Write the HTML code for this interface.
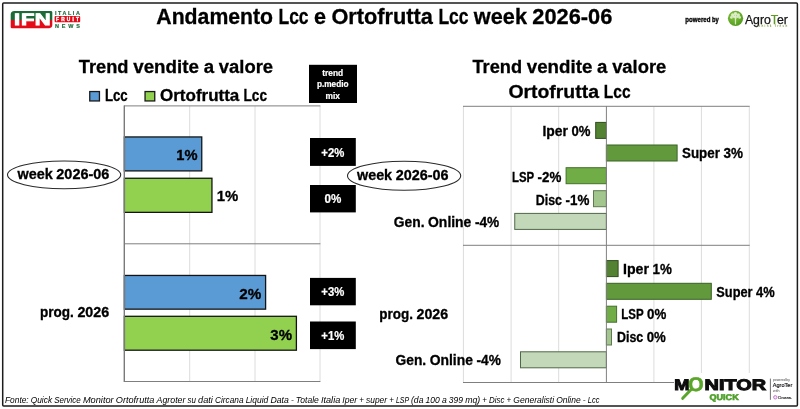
<!DOCTYPE html>
<html lang="it">
<head>
<meta charset="utf-8">
<title>Andamento Lcc e Ortofrutta Lcc week 2026-06</title>
<style>
html,body{margin:0;padding:0;background:#fff;}
body{width:800px;height:409px;overflow:hidden;}
svg{display:block;filter:blur(0.35px);}
text{font-family:"Liberation Sans",sans-serif;}
.b{font-weight:bold;fill:#000;stroke:#000;stroke-width:0.3px;}
.w{font-weight:bold;fill:#fff;stroke:#fff;stroke-width:0.2px;}
</style>
</head>
<body>
<svg width="800" height="409" viewBox="0 0 800 409">
<defs>
<linearGradient id="ifn" x1="0" y1="0" x2="0" y2="1">
<stop offset="0" stop-color="#1b6a37"/><stop offset="0.52" stop-color="#1b6a37"/>
<stop offset="0.52" stop-color="#e30b17"/><stop offset="1" stop-color="#e30b17"/>
</linearGradient>
<radialGradient id="agro" cx="0.4" cy="0.35" r="0.7">
<stop offset="0" stop-color="#8cc63f"/><stop offset="1" stop-color="#4f9a1e"/>
</radialGradient>
</defs>
<rect x="0" y="0" width="800" height="409" fill="#fff"/>
<!-- frame -->
<rect x="2.7" y="3.1" width="794.7" height="402.8" rx="1" fill="#fff" stroke="#1c1c1c" stroke-width="1.5"/>

<!-- IFN logo -->
<g id="logo-ifn">
<path d="M14.4 10.9H50.9Q52.3 10.9 52.3 12.3V25.1Q52.3 28.15 49.2 28.15H11.9Q10.7 28.15 10.7 26.9V14.6Q10.7 10.9 14.4 10.9Z" fill="url(#ifn)"/>
<text style="text-rendering:geometricPrecision" transform="scale(1,0.755)" x="14.09 21.05 34.7" y="33.44" font-size="22" font-weight="bold" fill="#fff" stroke="#fff" stroke-width="1.2" stroke-linejoin="miter">IFN</text>
<text x="55" y="14.5" font-size="5.4" font-weight="bold" fill="#1b6a37" stroke="#1b6a37" stroke-width="0.15" textLength="24.8" lengthAdjust="spacing">ITALIA</text>
<rect x="54.6" y="16" width="25.6" height="6.3" rx="1" fill="#e30b17"/>
<text x="56" y="20.95" font-size="4.8" font-weight="bold" fill="#fff" stroke="#fff" stroke-width="0.35" textLength="23" lengthAdjust="spacing">FRUIT</text>
<text x="55" y="27.9" font-size="5.5" font-weight="bold" fill="#1b6a37" stroke="#1b6a37" stroke-width="0.15" textLength="25" lengthAdjust="spacing">NEWS</text>
</g>

<!-- main title -->
<text y="23.7" font-size="21.6" class="b"><tspan x="156.30" textLength="116.80" lengthAdjust="spacingAndGlyphs">Andamento</tspan> <tspan x="278.50" textLength="30.08" lengthAdjust="spacingAndGlyphs">Lcc</tspan> <tspan x="313.98" textLength="12.02" lengthAdjust="spacingAndGlyphs">e</tspan> <tspan x="331.40" textLength="101.60" lengthAdjust="spacingAndGlyphs">Ortofrutta</tspan> <tspan x="438.39" textLength="30.08" lengthAdjust="spacingAndGlyphs">Lcc</tspan> <tspan x="473.87" textLength="53.11" lengthAdjust="spacingAndGlyphs">week</tspan> <tspan x="532.38" textLength="79.92" lengthAdjust="spacingAndGlyphs">2026-06</tspan></text>

<!-- powered by AgroTer -->
<g id="logo-agroter">
<text y="21.9" font-size="6.4" class="b" fill="#222"><tspan x="685.30" textLength="25.13" lengthAdjust="spacingAndGlyphs">powered</tspan> <tspan x="711.97" textLength="6.83" lengthAdjust="spacingAndGlyphs">by</tspan></text>
<circle cx="735.55" cy="18.3" r="7.6" fill="url(#agro)"/>
<g fill="#fff" opacity="0.72">
<path d="M734.9 24.4V18.6L732.4 16.6L732.9 16L735 17.5V15H736V17.8L738.2 16.2L738.7 16.8L736.1 18.8V24.4Z"/>
<circle cx="735.5" cy="13.8" r="1.8"/><circle cx="732.6" cy="14.9" r="1.6"/><circle cx="738.4" cy="14.9" r="1.6"/>
<circle cx="731.4" cy="17.4" r="1.4"/><circle cx="739.6" cy="17.4" r="1.4"/><circle cx="733.9" cy="16.5" r="1.2"/><circle cx="737.3" cy="16.5" r="1.2"/>
</g>
<text x="744.9" y="23.9" font-size="12" fill="#151515" stroke="#151515" stroke-width="0.25" textLength="43" lengthAdjust="spacingAndGlyphs">Agro<tspan fill="#5f9a25" stroke="#5f9a25">T</tspan>er</text>
<text x="759.2" y="26.9" font-size="2.9" font-weight="bold" fill="#7a9a3a" textLength="28" lengthAdjust="spacing">think fresh</text>
</g>

<!-- LEFT CHART -->
<g id="chart-left">
<text y="72.8" font-size="18.9" class="b"><tspan x="78.80" textLength="49.71" lengthAdjust="spacingAndGlyphs">Trend</tspan> <tspan x="133.26" textLength="65.67" lengthAdjust="spacingAndGlyphs">vendite</tspan> <tspan x="203.68" textLength="10.38" lengthAdjust="spacingAndGlyphs">a</tspan> <tspan x="218.81" textLength="54.29" lengthAdjust="spacingAndGlyphs">valore</tspan></text>
<rect x="89.75" y="91.55" width="9.7" height="9.4" fill="#5b9bd5" stroke="#1a1a1a" stroke-width="1.3"/>
<text x="104.9" y="100.8" font-size="16" class="b" textLength="22.8" lengthAdjust="spacingAndGlyphs">Lcc</text>
<rect x="145.05" y="91.55" width="9.7" height="9.4" fill="#92d050" stroke="#1a1a1a" stroke-width="1.3"/>
<text y="100.8" font-size="16" class="b"><tspan x="160.00" textLength="79.31" lengthAdjust="spacingAndGlyphs">Ortofrutta</tspan> <tspan x="243.52" textLength="23.48" lengthAdjust="spacingAndGlyphs">Lcc</tspan></text>
<!-- grid -->
<g stroke="#dcdcdc" stroke-width="1">
<line x1="189.7" y1="106" x2="189.7" y2="381.5"/><line x1="255" y1="106" x2="255" y2="381.5"/><line x1="320" y1="106" x2="320" y2="381.5"/>
</g>
<g stroke="#7f7f7f" stroke-width="1">
<line x1="124" y1="105.9" x2="320.4" y2="105.9"/><line x1="124" y1="243.8" x2="320.4" y2="243.8"/><line x1="124" y1="381.5" x2="320.4" y2="381.5"/>
</g>
<!-- bars -->
<g stroke="#141414" stroke-width="1.3">
<rect x="124.4" y="136.95" width="77.35" height="33.95" fill="#5b9bd5"/>
<rect x="124.4" y="178.25" width="87.55" height="34.1" fill="#92d050"/>
<rect x="124.4" y="275.45" width="141.2" height="33.7" fill="#5b9bd5"/>
<rect x="124.4" y="316.3" width="172" height="33.9" fill="#92d050"/>
</g>
<line x1="124.3" y1="105.4" x2="124.3" y2="382" stroke="#7a7a7a" stroke-width="1.4"/>
<text x="176.3" y="160.1" font-size="15.3" class="b" textLength="21.2" lengthAdjust="spacingAndGlyphs">1%</text>
<text x="216.8" y="201.1" font-size="15.3" class="b" textLength="21.5" lengthAdjust="spacingAndGlyphs">1%</text>
<text x="239.3" y="298.8" font-size="15.3" class="b" textLength="22" lengthAdjust="spacingAndGlyphs">2%</text>
<text x="270.3" y="339.5" font-size="15.3" class="b" textLength="21.7" lengthAdjust="spacingAndGlyphs">3%</text>
<!-- category labels -->
<ellipse cx="64.1" cy="174.85" rx="56.6" ry="13.9" fill="#fff" stroke="#2a2a2a" stroke-width="1.1"/>
<text y="178.9" font-size="14.1" class="b"><tspan x="17.50" textLength="35.26" lengthAdjust="spacingAndGlyphs">week</tspan> <tspan x="56.34" textLength="53.06" lengthAdjust="spacingAndGlyphs">2026-06</tspan></text>
<text y="317" font-size="14.1" class="b"><tspan x="40.00" textLength="33.86" lengthAdjust="spacingAndGlyphs">prog.</tspan> <tspan x="77.40" textLength="31.80" lengthAdjust="spacingAndGlyphs">2026</tspan></text>
</g>

<!-- trend boxes -->
<g id="trend-boxes">
<rect x="309" y="64.8" width="48" height="38.2" fill="#000"/>
<text x="322.3" y="75.6" font-size="8.6" class="w" textLength="20.9" lengthAdjust="spacingAndGlyphs">trend</text>
<text x="316.9" y="87.2" font-size="8.6" class="w" textLength="31.6" lengthAdjust="spacingAndGlyphs">p.medio</text>
<text x="325.6" y="98.8" font-size="8.6" class="w" textLength="14.4" lengthAdjust="spacingAndGlyphs">mix</text>
<rect x="310" y="138" width="45.8" height="27.9" fill="#000"/>
<text x="321.3" y="157" font-size="11.9" class="w" textLength="23" lengthAdjust="spacingAndGlyphs">+2%</text>
<rect x="310" y="185" width="45.8" height="27.4" fill="#000"/>
<text x="324.5" y="203" font-size="11.9" class="w" textLength="16.8" lengthAdjust="spacingAndGlyphs">0%</text>
<rect x="310" y="277.9" width="45.8" height="27.4" fill="#000"/>
<text x="321.3" y="296.4" font-size="11.9" class="w" textLength="23" lengthAdjust="spacingAndGlyphs">+3%</text>
<rect x="310" y="321.5" width="45.8" height="27.6" fill="#000"/>
<text x="321.3" y="340.3" font-size="11.9" class="w" textLength="23" lengthAdjust="spacingAndGlyphs">+1%</text>
</g>

<!-- RIGHT CHART -->
<g id="chart-right">
<text y="72.8" font-size="18.9" class="b"><tspan x="472.50" textLength="49.58" lengthAdjust="spacingAndGlyphs">Trend</tspan> <tspan x="526.82" textLength="65.50" lengthAdjust="spacingAndGlyphs">vendite</tspan> <tspan x="597.06" textLength="10.35" lengthAdjust="spacingAndGlyphs">a</tspan> <tspan x="612.15" textLength="54.15" lengthAdjust="spacingAndGlyphs">valore</tspan></text>
<text y="98.4" font-size="18.9" class="b"><tspan x="508.40" textLength="90.57" lengthAdjust="spacingAndGlyphs">Ortofrutta</tspan> <tspan x="603.78" textLength="26.82" lengthAdjust="spacingAndGlyphs">Lcc</tspan></text>
<g stroke="#dcdcdc" stroke-width="1">
<line x1="463.4" y1="106.4" x2="463.4" y2="382.5"/><line x1="511.1" y1="106.4" x2="511.1" y2="382.5"/><line x1="558.7" y1="106.4" x2="558.7" y2="382.5"/>
<line x1="653.9" y1="106.4" x2="653.9" y2="382.5"/><line x1="701.4" y1="106.4" x2="701.4" y2="382.5"/><line x1="749.3" y1="106.4" x2="749.3" y2="382.5"/>
</g>
<g stroke="#7f7f7f" stroke-width="1">
<line x1="463" y1="106.3" x2="749.7" y2="106.3"/><line x1="463" y1="245.3" x2="749.7" y2="245.3"/><line x1="463" y1="382.5" x2="749.7" y2="382.5"/>
</g>
<!-- bars -->
<g stroke-width="1">
<rect x="595.70" y="122.40" width="10.70" height="16.00" fill="#538233" stroke="#2f4d1c"/>
<rect x="606.40" y="145.00" width="70.70" height="16.00" fill="#62993c" stroke="#386224"/>
<rect x="566.10" y="167.70" width="40.30" height="16.00" fill="#70ad47" stroke="#44702b"/>
<rect x="593.50" y="190.70" width="12.90" height="16.00" fill="#a2c68d" stroke="#5f7a4f"/>
<rect x="514.75" y="213.40" width="91.65" height="16.00" fill="#c3d8b9" stroke="#4f6847"/>
<rect x="606.40" y="260.60" width="11.70" height="16.00" fill="#538233" stroke="#2f4d1c"/>
<rect x="606.40" y="283.30" width="104.90" height="16.00" fill="#62993c" stroke="#386224"/>
<rect x="606.40" y="306.20" width="10.20" height="16.00" fill="#70ad47" stroke="#44702b"/>
<rect x="606.40" y="329.00" width="5.10" height="16.00" fill="#a2c68d" stroke="#5f7a4f"/>
<rect x="520.50" y="351.80" width="85.90" height="16.00" fill="#c3d8b9" stroke="#4f6847"/>
</g>
<line x1="606.4" y1="106" x2="606.4" y2="383" stroke="#808080" stroke-width="1"/>
<!-- labels -->
<g font-size="14.1" class="b" lengthAdjust="spacingAndGlyphs">
<text y="135.8"><tspan x="542.50" textLength="25.54" lengthAdjust="spacingAndGlyphs">Iper</tspan> <tspan x="571.51" textLength="18.99" lengthAdjust="spacingAndGlyphs">0%</tspan></text>
<text y="157.7"><tspan x="682.00" textLength="37.94" lengthAdjust="spacingAndGlyphs">Super</tspan> <tspan x="723.50" textLength="19.50" lengthAdjust="spacingAndGlyphs">3%</tspan></text>
<text y="182"><tspan x="512.00" textLength="22.02" lengthAdjust="spacingAndGlyphs">LSP</tspan> <tspan x="537.51" textLength="23.79" lengthAdjust="spacingAndGlyphs">-2%</tspan></text>
<text y="204.5"><tspan x="535.80" textLength="26.17" lengthAdjust="spacingAndGlyphs">Disc</tspan> <tspan x="565.47" textLength="23.83" lengthAdjust="spacingAndGlyphs">-1%</tspan></text>
<text y="226.8"><tspan x="393.80" textLength="30.70" lengthAdjust="spacingAndGlyphs">Gen.</tspan> <tspan x="428.06" textLength="43.32" lengthAdjust="spacingAndGlyphs">Online</tspan> <tspan x="474.96" textLength="24.34" lengthAdjust="spacingAndGlyphs">-4%</tspan></text>
<text y="274.3"><tspan x="623.00" textLength="25.96" lengthAdjust="spacingAndGlyphs">Iper</tspan> <tspan x="652.50" textLength="19.30" lengthAdjust="spacingAndGlyphs">1%</tspan></text>
<text y="297"><tspan x="716.30" textLength="36.26" lengthAdjust="spacingAndGlyphs">Super</tspan> <tspan x="755.97" textLength="18.63" lengthAdjust="spacingAndGlyphs">4%</tspan></text>
<text y="319.3"><tspan x="621.30" textLength="22.23" lengthAdjust="spacingAndGlyphs">LSP</tspan> <tspan x="647.05" textLength="19.25" lengthAdjust="spacingAndGlyphs">0%</tspan></text>
<text y="341.8"><tspan x="617.00" textLength="26.19" lengthAdjust="spacingAndGlyphs">Disc</tspan> <tspan x="646.69" textLength="19.11" lengthAdjust="spacingAndGlyphs">0%</tspan></text>
<text y="364.5"><tspan x="395.50" textLength="30.64" lengthAdjust="spacingAndGlyphs">Gen.</tspan> <tspan x="429.70" textLength="43.24" lengthAdjust="spacingAndGlyphs">Online</tspan> <tspan x="476.50" textLength="24.30" lengthAdjust="spacingAndGlyphs">-4%</tspan></text>
</g>
<ellipse cx="404.1" cy="175.75" rx="56.6" ry="14.55" fill="#fff" stroke="#2a2a2a" stroke-width="1.1"/>
<text y="180.1" font-size="14.1" class="b"><tspan x="357.00" textLength="35.10" lengthAdjust="spacingAndGlyphs">week</tspan> <tspan x="395.67" textLength="52.83" lengthAdjust="spacingAndGlyphs">2026-06</tspan></text>
<text y="318.8" font-size="14.1" class="b"><tspan x="379.30" textLength="33.66" lengthAdjust="spacingAndGlyphs">prog.</tspan> <tspan x="416.49" textLength="31.61" lengthAdjust="spacingAndGlyphs">2026</tspan></text>
</g>

<!-- footer -->
<text y="402.5" font-size="8.4" font-style="italic" fill="#000"><tspan x="5.00" textLength="23.67" lengthAdjust="spacingAndGlyphs">Fonte:</tspan> <tspan x="30.78" textLength="21.30" lengthAdjust="spacingAndGlyphs">Quick</tspan> <tspan x="54.20" textLength="26.60" lengthAdjust="spacingAndGlyphs">Service</tspan> <tspan x="82.91" textLength="30.77" lengthAdjust="spacingAndGlyphs">Monitor</tspan> <tspan x="115.79" textLength="38.62" lengthAdjust="spacingAndGlyphs">Ortofrutta</tspan> <tspan x="156.52" textLength="28.92" lengthAdjust="spacingAndGlyphs">Agroter</tspan> <tspan x="187.56" textLength="8.45" lengthAdjust="spacingAndGlyphs">su</tspan> <tspan x="198.12" textLength="14.82" lengthAdjust="spacingAndGlyphs">dati</tspan> <tspan x="215.06" textLength="28.49" lengthAdjust="spacingAndGlyphs">Circana</tspan> <tspan x="245.66" textLength="22.65" lengthAdjust="spacingAndGlyphs">Liquid</tspan> <tspan x="270.42" textLength="18.37" lengthAdjust="spacingAndGlyphs">Data</tspan> <tspan x="290.91" textLength="2.86" lengthAdjust="spacingAndGlyphs">-</tspan> <tspan x="295.89" textLength="22.99" lengthAdjust="spacingAndGlyphs">Totale</tspan> <tspan x="320.99" textLength="19.27" lengthAdjust="spacingAndGlyphs">Italia</tspan> <tspan x="342.37" textLength="14.83" lengthAdjust="spacingAndGlyphs">Iper</tspan> <tspan x="359.32" textLength="4.66" lengthAdjust="spacingAndGlyphs">+</tspan> <tspan x="366.09" textLength="20.92" lengthAdjust="spacingAndGlyphs">super</tspan> <tspan x="389.13" textLength="4.66" lengthAdjust="spacingAndGlyphs">+</tspan> <tspan x="395.90" textLength="12.99" lengthAdjust="spacingAndGlyphs">LSP</tspan> <tspan x="411.00" textLength="12.45" lengthAdjust="spacingAndGlyphs">(da</tspan> <tspan x="425.57" textLength="14.22" lengthAdjust="spacingAndGlyphs">100</tspan> <tspan x="441.90" textLength="4.81" lengthAdjust="spacingAndGlyphs">a</tspan> <tspan x="448.82" textLength="14.22" lengthAdjust="spacingAndGlyphs">399</tspan> <tspan x="465.15" textLength="15.04" lengthAdjust="spacingAndGlyphs">mq)</tspan> <tspan x="482.31" textLength="4.66" lengthAdjust="spacingAndGlyphs">+</tspan> <tspan x="489.08" textLength="15.43" lengthAdjust="spacingAndGlyphs">Disc</tspan> <tspan x="506.62" textLength="4.66" lengthAdjust="spacingAndGlyphs">+</tspan> <tspan x="513.39" textLength="40.69" lengthAdjust="spacingAndGlyphs">Generalisti</tspan> <tspan x="556.19" textLength="24.49" lengthAdjust="spacingAndGlyphs">Online</tspan> <tspan x="582.79" textLength="2.86" lengthAdjust="spacingAndGlyphs">-</tspan> <tspan x="587.77" textLength="11.63" lengthAdjust="spacingAndGlyphs">Lcc</tspan></text>

<!-- Monitor Quick logo -->
<g id="logo-monitor">
<rect x="674" y="373" width="122" height="31.5" fill="#fff"/>
<line x1="691.4" y1="389.2" x2="682.7" y2="398.3" stroke="#5aa62b" stroke-width="3" stroke-linecap="round"/>
<text style="text-rendering:geometricPrecision" font-weight="bold" fill="#0d0d0d" stroke="#0d0d0d" stroke-width="1" stroke-linejoin="miter"><tspan x="674.3" y="390.25" font-size="15.3" textLength="15.17" lengthAdjust="spacingAndGlyphs">M</tspan><tspan x="688.2" y="391.3" font-size="19.8" fill="#5aa62b" stroke="#5aa62b" stroke-width="0.6">O</tspan><tspan x="704.6" y="390.25" font-size="15.3" textLength="61.4" lengthAdjust="spacingAndGlyphs">NITOR</tspan></text>
<text x="709.5" y="399.5" font-size="8.3" font-weight="bold" fill="#4fa02a" stroke="#4fa02a" stroke-width="0.6" textLength="29.2" lengthAdjust="spacingAndGlyphs" style="text-rendering:geometricPrecision">QUICK</text>
<line x1="770.4" y1="378.6" x2="770.4" y2="399.8" stroke="#333" stroke-width="0.7"/>
<text y="380.9" font-size="3.2" fill="#444"><tspan x="773.00" textLength="12.60" lengthAdjust="spacingAndGlyphs">powered</tspan> <tspan x="786.37" textLength="3.43" lengthAdjust="spacingAndGlyphs">by</tspan></text>
<text x="772.8" y="386.5" font-size="5.6" fill="#111" stroke="#111" stroke-width="0.15" textLength="19.5" lengthAdjust="spacingAndGlyphs">AgroTer</text>
<text x="773" y="392" font-size="3.2" fill="#444" textLength="6.5" lengthAdjust="spacingAndGlyphs">with</text>
<circle cx="775.3" cy="397.3" r="1.7" fill="#f3e3f5" stroke="#c77ad0" stroke-width="1"/>
<text x="777.9" y="398.7" font-size="4.2" fill="#111" stroke="#111" stroke-width="0.12" textLength="14" lengthAdjust="spacingAndGlyphs">Circana.</text>
</g>
</svg>
</body>
</html>
